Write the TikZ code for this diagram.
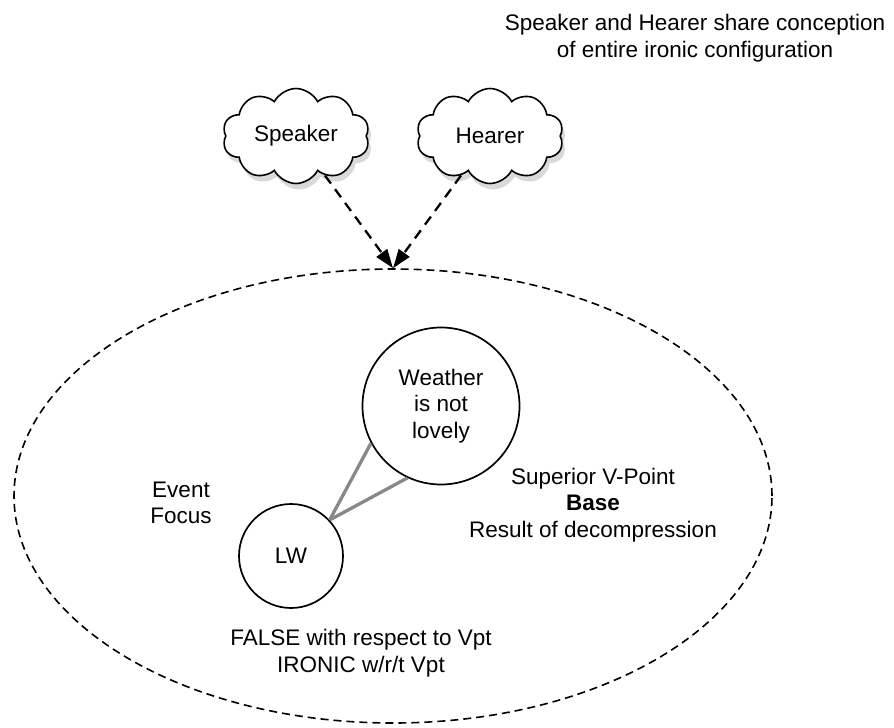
\documentclass[tikz,border=0pt]{standalone}
\usepackage{fontspec}
\setmainfont{Liberation Sans}
\usepackage{tikz}
\usetikzlibrary{arrows.meta,shapes.geometric,shapes.symbols,shadows}
\definecolor{linkGray}{HTML}{888888}
\tikzset{
  txt/.style={align=center, font=\fontsize{22.5}{26.5}\selectfont},
  thought/.style={cloud, cloud puffs=10, cloud puff arc=125, aspect=1.55, draw, line width=1.6pt, fill=white, minimum width=147pt, minimum height=95pt, inner sep=0pt, drop shadow={shadow xshift=3pt, shadow yshift=-6pt, opacity=0.3}, txt},
  scene/.style={ellipse, draw, dash pattern=on 8pt off 5pt, line width=1.6pt, minimum width=758pt, minimum height=454pt, inner sep=0pt},
  space/.style={circle, draw, line width=1.7pt, fill=white, inner sep=0pt, txt},
  share/.style={-{Triangle[length=19pt,width=13pt]}, line width=2.3pt, dash pattern=on 10pt off 7pt},
  link/.style={draw=linkGray, line width=3.3pt}
}
\begin{document}
\begin{tikzpicture}[x=1pt, y=-1pt]
  \useasboundingbox (0,0) rectangle (894,728);
  \node[txt] (title) at (695,38) {Speaker and Hearer share conception\\of entire ironic configuration};
  \node[thought] (speaker) at (296,136) {Speaker};
  \node[thought] (hearer) at (490,136) {Hearer};
  \node[scene] (blend) at (393,496) {};
  \node[space, minimum size=157pt] (weather) at (441,406) {Weather\\is not\\lovely};
  \node[space, minimum size=104pt] (lw) at (291,556) {LW};
  \node[txt] (focus) at (181,503) {Event\\Focus};
  \node[txt] (vpoint) at (593,505) {Superior V-Point\\\textbf{Base}\\Result of decompression};
  \node[txt] (falsity) at (361,653) {FALSE with respect to Vpt\\IRONIC w/r/t Vpt};

  \draw[share] (speaker) -- (blend.north);
  \draw[share] (hearer) -- (blend.north);
  \draw[link] (lw.43) -- (weather.208);
  \draw[link] (lw.43) -- (weather.245);
\end{tikzpicture}
\end{document}
